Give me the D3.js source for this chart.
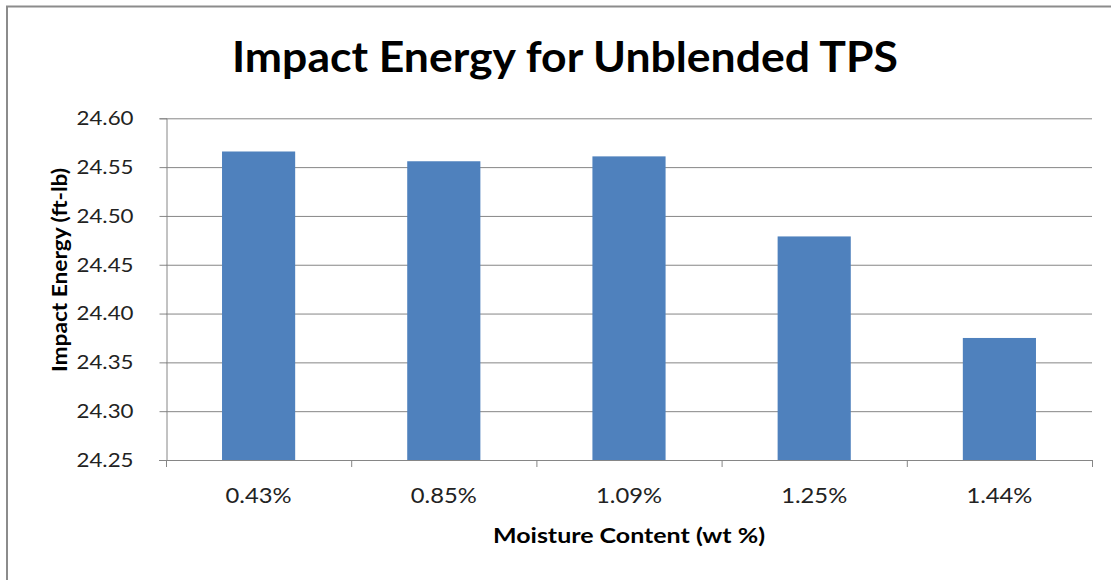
<!DOCTYPE html>
<html>
<head>
<meta charset="utf-8">
<script src="https://cdn.jsdelivr.net/npm/d3@7"></script>
<style>
  html, body { margin: 0; padding: 0; background: #fff; }
  svg { display: block; }
</style>
</head>
<body>
<div id="chart"></div>
<script>
// chart data
const categories = ['0.43%', '0.85%', '1.09%', '1.25%', '1.44%'];
const impactEnergy = [24.566, 24.556, 24.561, 24.479, 24.375];
const yTicks = [24.25, 24.30, 24.35, 24.40, 24.45, 24.50, 24.55, 24.60];

const width = 1111, height = 580;
const margin = { top: 118.3, right: 19, bottom: 120, left: 166 };
const font = 'Lato, "Open Sans", sans-serif';

const svg = d3.select('#chart').append('svg')
  .attr('width', width).attr('height', height);

// outer chart border (runs off right and bottom)
svg.append('rect')
  .attr('x', 7).attr('y', 6.5).attr('width', 1200).attr('height', 700)
  .attr('fill', '#fff').attr('stroke', '#8c8c8c').attr('stroke-width', 2);

const x = d3.scaleBand()
  .domain(categories)
  .range([margin.left, width - margin.right])
  .paddingInner(0.605)
  .paddingOuter(0.3025);

const y = d3.scaleLinear()
  .domain([24.25, 24.60])
  .range([height - margin.bottom, margin.top]);

// gridlines
svg.append('g')
  .selectAll('line')
  .data(yTicks.slice(1))
  .join('line')
  .attr('x1', margin.left).attr('x2', width - margin.right)
  .attr('y1', d => y(d) + 0.5).attr('y2', d => y(d) + 0.5)
  .attr('stroke', '#868686').attr('stroke-width', 1);

// bars
svg.append('g')
  .selectAll('rect')
  .data(impactEnergy)
  .join('rect')
  .attr('x', (d, i) => x(categories[i]))
  .attr('y', d => y(d))
  .attr('width', x.bandwidth())
  .attr('height', d => y(24.25) - y(d))
  .attr('fill', '#4F81BD');

// y axis
const yAxis = svg.append('g')
  .attr('transform', `translate(${margin.left + 0.5},0)`)
  .call(d3.axisLeft(y).tickValues(yTicks).tickFormat(d3.format('.2f')).tickSize(7).tickPadding(26));
yAxis.selectAll('path, line').attr('stroke', '#868686');
yAxis.selectAll('text')
  .attr('font-family', font).attr('font-size', 20).attr('fill', '#222')
  .attr('textLength', 57).attr('lengthAdjust', 'spacingAndGlyphs');

// x axis: ticks between categories
const step = x.step();
const boundaries = d3.range(categories.length + 1).map(i => margin.left + i * step);
const xg = svg.append('g');
xg.append('line')
  .attr('x1', margin.left - 7).attr('x2', width - margin.right)
  .attr('y1', y(24.25) + 0.5).attr('y2', y(24.25) + 0.5)
  .attr('stroke', '#868686');
xg.selectAll('line.tick')
  .data(boundaries)
  .join('line')
  .attr('class', 'tick')
  .attr('x1', d => d + 0.5).attr('x2', d => d + 0.5)
  .attr('y1', y(24.25)).attr('y2', y(24.25) + 7)
  .attr('stroke', '#868686');
xg.selectAll('text')
  .data(categories)
  .join('text')
  .attr('x', d => x(d) + x.bandwidth() / 2)
  .attr('y', 503)
  .attr('text-anchor', 'middle')
  .attr('font-family', font).attr('font-size', 21).attr('fill', '#222')
  .attr('textLength', 66).attr('lengthAdjust', 'spacingAndGlyphs')
  .text(d => d);

// titles
svg.append('text')
  .attr('x', 565).attr('y', 72)
  .attr('text-anchor', 'middle')
  .attr('font-family', font).attr('font-weight', 'bold').attr('font-size', 42)
  .attr('textLength', 666).attr('lengthAdjust', 'spacingAndGlyphs')
  .attr('fill', '#000')
  .text('Impact Energy for Unblended TPS');

svg.append('text')
  .attr('x', 629).attr('y', 543)
  .attr('text-anchor', 'middle')
  .attr('font-family', font).attr('font-weight', 'bold').attr('font-size', 21)
  .attr('textLength', 272).attr('lengthAdjust', 'spacingAndGlyphs')
  .attr('fill', '#000')
  .text('Moisture Content (wt %)');

svg.append('text')
  .attr('transform', 'translate(67,270) rotate(-90)')
  .attr('text-anchor', 'middle')
  .attr('font-family', font).attr('font-weight', 'bold').attr('font-size', 21)
  .attr('textLength', 204).attr('lengthAdjust', 'spacingAndGlyphs')
  .attr('fill', '#000')
  .text('Impact Energy (ft-lb)');
</script>
</body>
</html>
